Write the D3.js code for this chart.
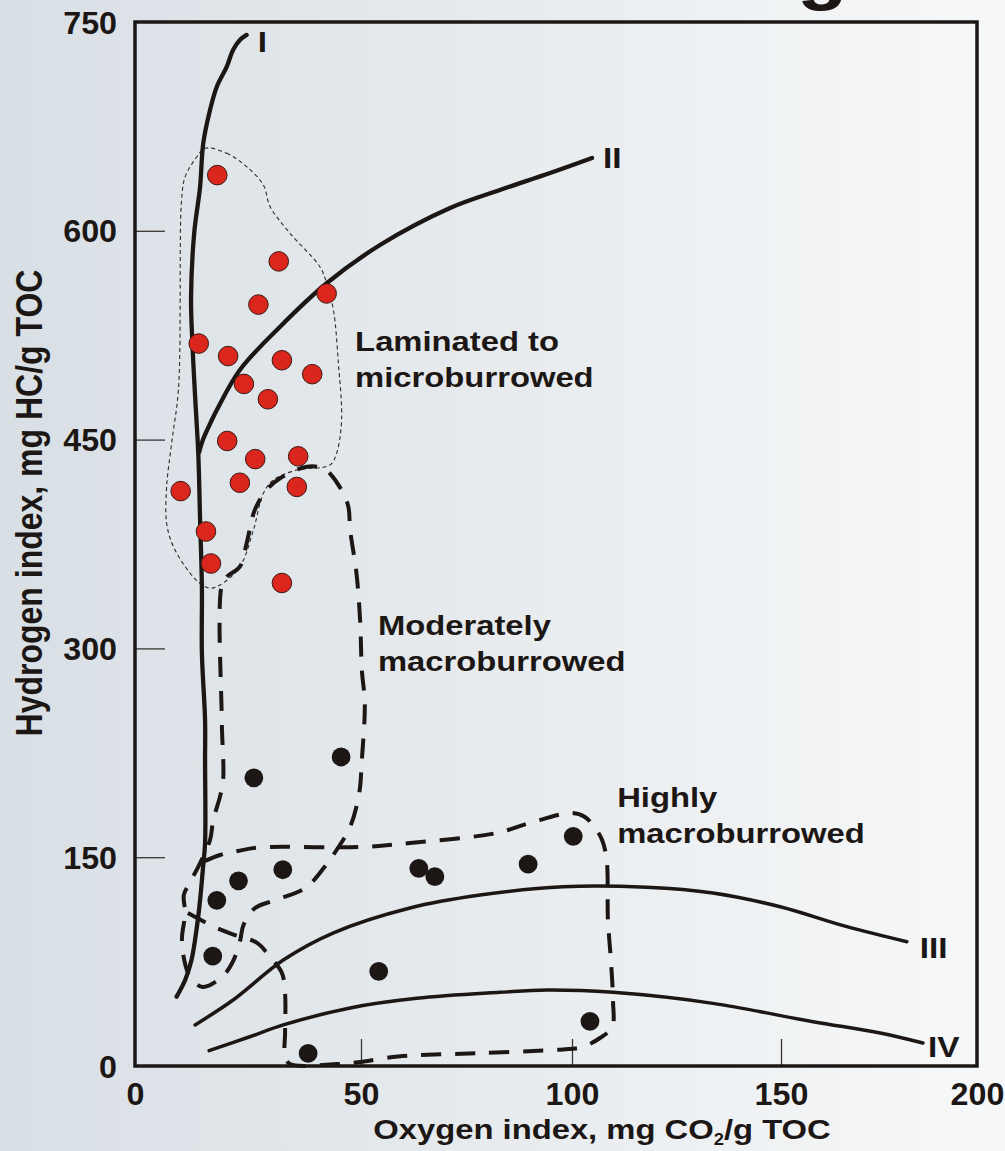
<!DOCTYPE html>
<html>
<head>
<meta charset="utf-8">
<script src="https://cdn.jsdelivr.net/npm/d3@7"></script>
<style>
  html, body { margin: 0; padding: 0; }
  body { width: 1005px; height: 1151px; overflow: hidden; }
  svg { display: block; }
  text { font-family: "Liberation Sans", Arial, Helvetica, sans-serif; font-weight: bold; fill: #1c1714; }
</style>
</head>
<body>
<svg id="chart" width="1005" height="1151"></svg>
<script>
// ---- Axis ticks -------------------------------------------------------
const xTicks = [0, 50, 100, 150, 200];
const yTicks = [0, 150, 300, 450, 600, 750];

// ---- Kerogen type evolution curves (oxygen index, hydrogen index) -----
const curveNames = ["I", "II", "III", "IV"];
const curveI = [[9.2,49.8],[11.1,61.8],[12.5,76.1],[13.7,100.1],[14.4,119.3],[15.0,140.8],[15.5,160],[15.5,219.8],[15.5,248.6],[14.8,296.5],[14.8,344.3],[14.4,392.2],[14.0,440],[13.3,480.8],[12.7,519.2],[12.4,552],[13.1,598.4],[14.4,631.7],[15.1,662.9],[16.6,686.8],[18.1,703.5],[20.3,717.9],[21.7,729.9],[23.2,737.1],[24.7,740.7]];
const curveII = [[14.2,441],[15.0,449.7],[17.0,464.1],[18.1,471.3],[23.2,500],[32.1,531.1],[42.4,562.3],[54.5,589.8],[71.1,616.4],[82.9,629.3],[94.8,641.5],[104.8,652.3]];
const curveIII = [[13.3,29.5],[21.7,47.4],[32.8,76.1],[43.8,95.5],[61.6,113.5],[78.2,122.8],[97.9,128.8],[117.9,128.4],[133.7,124.3],[149.8,114.4],[166.8,100.1],[182.1,89.3]];
const curveIV = [[16.4,11],[25.4,21],[32.8,29.5],[47.6,41.7],[63.2,48.6],[82.9,52.9],[94.0,54.6],[109.8,52.9],[133.7,45],[158.2,31.8],[175.3,23.7],[186.2,16.5]];

// ---- Bioturbation fields ---------------------------------------------
const regionNames = ["Laminated to microburrowed", "Moderately macroburrowed", "Highly macroburrowed"];
const laminatedField = [[15.5,659.3],[20.3,655.7],[24.7,646.1],[28.4,632.9],[29.9,617.3],[34.3,598.2],[40.9,574.2],[42.4,562.3],[43.9,543.1],[45.0,504.8],[45.7,464.1],[44.6,440.2],[43.1,431.7],[35.8,428.2],[30.6,421],[28.4,411.4],[26.2,385.1],[23.2,358.7],[18.8,345.5],[16.6,343.2],[14.4,346.8],[12.2,354],[8.5,373.1],[7.0,389.9],[7.0,416.2],[8.1,447.3],[9.6,485.6],[10.0,555.1],[10.0,574.2],[10.3,622.1],[11.1,638.9],[13.7,653.2]];
const moderateField = [[19.2,345.5],[20.3,351.5],[23.2,358.7],[24.7,375.5],[26.5,399.4],[29.1,413.8],[32.1,422.2],[38.0,430.5],[41.7,429.4],[43.1,425.8],[45.7,413.8],[47.2,401.8],[47.6,385.1],[49.0,354],[49.8,320.4],[50.2,284.5],[50.9,260.6],[50.2,219.8],[49.6,195.9],[47.6,171.9],[44.6,155.2],[41.7,142],[37.6,127.7],[30.6,118.8],[26.5,113.3],[24.0,101.3],[23.2,89.3],[21.5,74],[19.2,63.9],[15.0,56.8],[12.2,63.9],[10.6,81.2],[10.4,92.7],[11.1,109.9],[10.8,122.8],[12.2,132.2],[14.4,145.8],[16.6,162.4],[17.3,176.7],[18.8,193.5],[19.5,205.5],[19.2,248.6]];
const highField = [[11.7,109.9],[18.1,99.1],[22.1,94.1],[27.0,88.4],[29.9,78.3],[32.5,66.8],[33.2,52.4],[33.2,23.7],[33.2,6.5],[34.3,1.4],[44.7,1.4],[49.8,2.9],[58.8,6.8],[78.2,9.3],[97.9,11.9],[102.4,13.6],[106.7,20.1],[109.6,28],[109.8,47.4],[109.3,76.1],[108.6,104.9],[108.3,148],[107.2,162.4],[105.5,171],[103.1,178.9],[100,181.8],[90.0,174.6],[82.2,167.4],[61.6,160.2],[49.8,157.3],[27.7,157],[22.8,154.5],[18.8,151.6],[14.4,145.8]];

// ---- Samples ---------------------------------------------------------
const laminatedSamples = [[18.2,640],[31.8,578],[42.4,555],[27.3,547],[14.1,519],[20.6,510],[32.5,507],[39.2,497],[24.1,490],[29.4,479],[20.4,449],[26.6,436],[36.1,438],[10.1,413],[23.2,419],[35.8,416],[15.7,384],[16.8,361],[32.5,347]];
const burrowedSamples = [[26.3,207],[45.6,222],[32.7,141],[22.9,133],[18.1,119],[63.7,142],[67.5,136],[17.2,79],[54.2,68],[38.3,9],[100.3,165],[89.6,145],[104.3,32]];

// ---- Layout ------------------------------------------------------------
const W = 1005, H = 1151;
const frame = { left: 135, right: 977, top: 22, bottom: 1066 };
const SX = 1.15;            // horizontal stretch of the lettering
const INK = "#1c1714";

const x = d3.scaleLinear().domain(xTicks).range([frame.left, 361, 572, 781, frame.right]);
const y = d3.scaleLinear().domain([0, 750]).range([frame.bottom, frame.top]);

const svg = d3.select("#chart");

// background wash
const grad = svg.append("defs").append("linearGradient")
  .attr("id", "wash").attr("x1", 0).attr("x2", 1).attr("y1", 0).attr("y2", 0);
grad.append("stop").attr("offset", 0).attr("stop-color", "#d8dfe5");
grad.append("stop").attr("offset", 0.45).attr("stop-color", "#e6eaed");
grad.append("stop").attr("offset", 1).attr("stop-color", "#f7f8f9");
svg.append("rect").attr("width", W).attr("height", H).attr("fill", "url(#wash)");

// heading runs off the top edge; only the tail of its last letter shows
svg.append("text")
  .attr("transform", `translate(797,-4) scale(${SX},1)`)
  .style("font-size", "72px")
  .text("g");

// inner tick marks
const innerY = yTicks.filter(v => v > 0 && v < 750);
const innerX = xTicks.filter(v => v > 0 && v < 200);
const tickY = svg.append("g").attr("transform", `translate(${frame.left},0)`)
  .call(d3.axisRight(y).tickValues(innerY).tickSize(30).tickFormat(""));
const tickX = svg.append("g").attr("transform", `translate(0,${frame.bottom})`)
  .call(d3.axisTop(x).tickValues(innerX).tickSize(27).tickFormat(""));
[tickY, tickX].forEach(g => {
  g.select(".domain").remove();
  g.selectAll(".tick line").attr("stroke", "#3a3533").attr("stroke-width", 1.3);
});

// tick labels
const labY = svg.append("g").attr("transform", `translate(${frame.left},0)`)
  .call(d3.axisLeft(y).tickValues(yTicks).tickSize(0).tickFormat(d3.format("d")));
labY.select(".domain").remove();
labY.attr("font-size", null).attr("font-family", null);
labY.selectAll(".tick text")
  .attr("x", null).attr("dy", "0.36em")
  .attr("transform", `translate(-18,0) scale(1.04,1)`)
  .style("font-size", "31px");

const labX = svg.append("g").attr("transform", `translate(0,${frame.bottom})`)
  .call(d3.axisBottom(x).tickValues(xTicks).tickSize(0).tickFormat(d3.format("d")));
labX.select(".domain").remove();
labX.attr("font-size", null).attr("font-family", null);
labX.selectAll(".tick text")
  .attr("y", null).attr("dy", null)
  .attr("transform", `translate(0,39) scale(1.04,1)`)
  .style("font-size", "31px");

// axis titles
const xTitle = svg.append("text")
  .attr("transform", `translate(602,1139) scale(${SX},1)`)
  .attr("text-anchor", "middle")
  .style("font-size", "28.5px");
xTitle.append("tspan").text("Oxygen index, mg CO");
xTitle.append("tspan").attr("dy", 6).style("font-size", "16px").text("2");
xTitle.append("tspan").attr("dy", -6).text("/g TOC");

svg.append("text")
  .attr("transform", `translate(42,503) scale(${SX},1) rotate(-90)`)
  .attr("text-anchor", "middle")
  .style("font-size", "32px")
  .text("Hydrogen index, mg HC/g TOC");

// field outlines
const smooth = d3.line().x(d => x(d[0])).y(d => y(d[1])).curve(d3.curveCatmullRom.alpha(0.5));
const smoothClosed = d3.line().x(d => x(d[0])).y(d => y(d[1])).curve(d3.curveCatmullRomClosed.alpha(0.5));

svg.append("path").attr("d", smoothClosed(laminatedField))
  .attr("fill", "none").attr("stroke", "#2e2a28").attr("stroke-width", 1.1)
  .attr("stroke-dasharray", "4,3");
svg.append("path").attr("d", smoothClosed(moderateField))
  .attr("fill", "none").attr("stroke", INK).attr("stroke-width", 4)
  .attr("stroke-dasharray", "20,14");
svg.append("path").attr("d", smooth(highField))
  .attr("fill", "none").attr("stroke", INK).attr("stroke-width", 4)
  .attr("stroke-dasharray", "20,14");

// kerogen type curves
const curves = [curveI, curveII, curveIII, curveIV];
const widths = [4.3, 4.3, 3.5, 3.5];
const nameOffsets = [[11, 17], [11, 10], [13, 16], [5, 14]];
curves.forEach((c, i) => {
  svg.append("path").attr("d", smooth(c))
    .attr("fill", "none").attr("stroke", INK).attr("stroke-width", widths[i])
    .attr("stroke-linecap", "round").attr("stroke-linejoin", "round");
  const end = c[c.length - 1];
  svg.append("text")
    .attr("transform", `translate(${x(end[0]) + nameOffsets[i][0]},${y(end[1]) + nameOffsets[i][1]}) scale(${SX},1)`)
    .style("font-size", "29px")
    .text(curveNames[i]);
});

// samples
svg.append("g").selectAll("circle").data(burrowedSamples).join("circle")
  .attr("cx", d => x(d[0])).attr("cy", d => y(d[1])).attr("r", 9.4)
  .attr("fill", INK);
svg.append("g").selectAll("circle").data(laminatedSamples).join("circle")
  .attr("cx", d => x(d[0])).attr("cy", d => y(d[1])).attr("r", 9.8)
  .attr("fill", "#da261d").attr("stroke", "#3b1a14").attr("stroke-width", 1);

// field labels (anchored in data units)
const fieldLabelAt = [[48.7, 513.6], [54.0, 309.6], [110.8, 186.1]];
const fieldLines = [["Laminated to", "microburrowed"], ["Moderately", "macroburrowed"], ["Highly", "macroburrowed"]];
fieldLines.forEach((lines, i) => {
  const [ax, ay] = fieldLabelAt[i];
  lines.forEach((t, j) => {
    svg.append("text")
      .attr("transform", `translate(${x(ax)},${y(ay) + j * 36}) scale(${SX},1)`)
      .style("font-size", "28.5px")
      .text(t);
  });
});

// plot frame
svg.append("rect")
  .attr("x", frame.left).attr("y", frame.top)
  .attr("width", frame.right - frame.left).attr("height", frame.bottom - frame.top)
  .attr("fill", "none").attr("stroke", INK).attr("stroke-width", 3.5);
</script>
</body>
</html>
